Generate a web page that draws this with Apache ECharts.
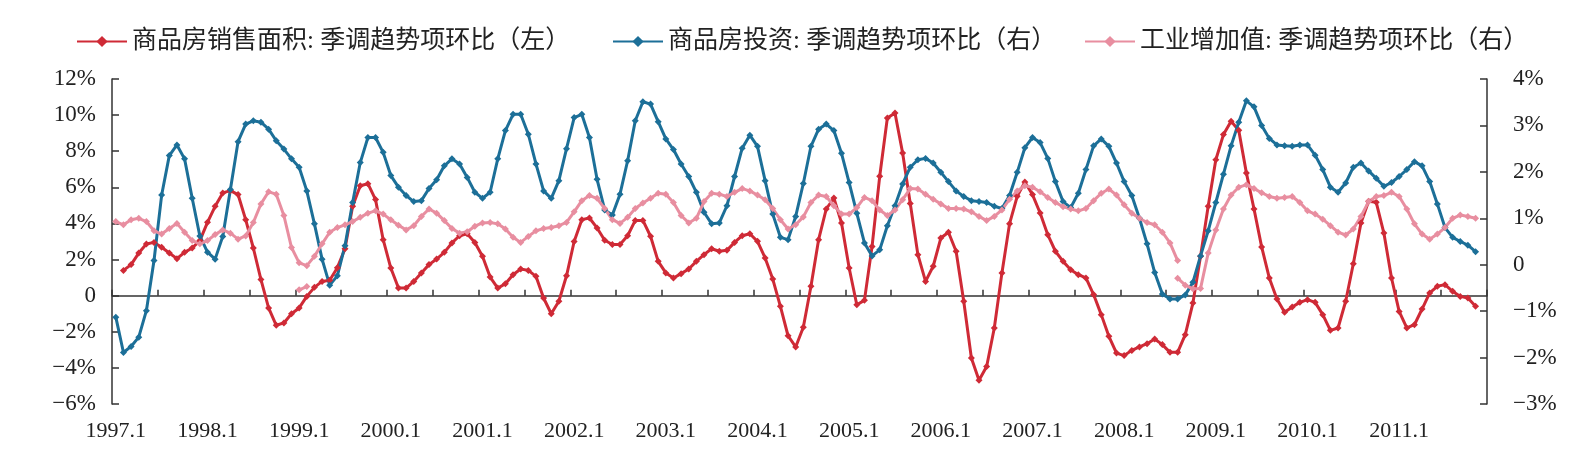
<!DOCTYPE html>
<html>
<head>
<meta charset="utf-8">
<script src="https://cdn.jsdelivr.net/npm/echarts@6/dist/echarts.min.js"></script>
<style>
  html, body { margin: 0; padding: 0; background: #fff; }
  #chart { width: 1586px; height: 461px; }
</style>
</head>
<body>
<div id="chart"></div>
<script>
// monthly categories 1997.1 .. 2011.12
const years = [1997, 1998, 1999, 2000, 2001, 2002, 2003, 2004, 2005, 2006, 2007, 2008, 2009, 2010, 2011]
const months = [1, 2, 3, 4, 5, 6, 7, 8, 9, 10, 11, 12]
const categories = years.flatMap((y) => months.map((m) => y + '.' + m))

const leftTicks = { min: -6, max: 12, interval: 2 }
const rightTicks = { min: -3, max: 4, interval: 1 }

const nameSales = '商品房销售面积: 季调趋势项环比（左）'
const nameInvest = '商品房投资: 季调趋势项环比（右）'
const nameIndustry = '工业增加值: 季调趋势项环比（右）'

// 商品房销售面积 (左轴, %), starts 1997.2
const salesArea = [
  null, 1.40, 1.72, 2.36, 2.86, 2.95, 2.68, 2.36, 2.05, 2.40, 2.64, 3.05,
  4.06, 4.95, 5.69, 5.82, 5.60, 4.21, 2.64, 0.89, -0.68, -1.64, -1.51, -1.00,
  -0.68, -0.04, 0.46, 0.79, 0.85, 1.55, 2.60, 4.95, 6.09, 6.20, 5.32, 3.10,
  1.53, 0.42, 0.42, 0.79, 1.26, 1.72, 2.03, 2.40, 2.92, 3.32, 3.43, 2.95,
  2.18, 1.03, 0.42, 0.66, 1.16, 1.48, 1.40, 1.07, -0.13, -1.00, -0.31, 1.10,
  3.00, 4.21, 4.30, 3.75, 3.07, 2.83, 2.83, 3.32, 4.17, 4.17, 3.29, 1.90,
  1.26, 0.98, 1.22, 1.48, 1.90, 2.27, 2.60, 2.46, 2.51, 2.95, 3.32, 3.43,
  3.01, 2.09, 0.92, -0.59, -2.22, -2.84, -1.75, 0.52, 3.10, 4.80, 5.41, 4.03,
  1.53, -0.50, -0.26, 2.73, 6.61, 9.84, 10.12, 7.90, 5.10, 2.27, 0.79, 1.63,
  3.19, 3.51, 2.46, -0.31, -3.45, -4.69, -3.92, -1.79, 1.26, 3.99, 5.50, 6.30,
  5.60, 4.58, 3.38, 2.46, 1.90, 1.44, 1.16, 0.98, 0.06, -1.05, -2.25, -3.18,
  -3.32, -3.03, -2.84, -2.66, -2.40, -2.71, -3.14, -3.14, -2.16, -0.41, 2.18, 4.95,
  7.53, 8.92, 9.66, 9.16, 6.80, 4.80, 2.70, 0.98, -0.18, -0.92, -0.63, -0.37,
  -0.22, -0.37, -1.05, -1.92, -1.79, -0.31, 1.77, 4.03, 5.23, 5.17, 3.47, 0.98,
  -0.87, -1.79, -1.61, -0.74, 0.15, 0.52, 0.61, 0.24, -0.04, -0.13, -0.59
]

// 商品房投资 (右轴, %)
const investment = [
  -1.13, -1.89, -1.76, -1.56, -0.99, 0.09, 1.50, 2.35, 2.58, 2.28, 1.43, 0.62,
  0.27, 0.12, 0.61, 1.62, 2.65, 3.03, 3.10, 3.07, 2.92, 2.67, 2.49, 2.28,
  2.10, 1.59, 0.88, 0.12, -0.44, -0.24, 0.41, 1.34, 2.20, 2.74, 2.74, 2.42,
  1.92, 1.67, 1.49, 1.36, 1.38, 1.64, 1.83, 2.13, 2.28, 2.17, 1.88, 1.56,
  1.43, 1.56, 2.28, 2.89, 3.24, 3.24, 2.81, 2.17, 1.59, 1.43, 1.81, 2.50,
  3.17, 3.24, 2.74, 1.84, 1.18, 1.07, 1.52, 2.24, 3.10, 3.51, 3.46, 3.08,
  2.71, 2.48, 2.17, 1.90, 1.56, 1.13, 0.88, 0.90, 1.27, 1.90, 2.51, 2.79,
  2.55, 1.81, 1.09, 0.59, 0.54, 1.04, 1.75, 2.55, 2.92, 3.03, 2.89, 2.40,
  1.77, 1.11, 0.47, 0.19, 0.32, 0.84, 1.27, 1.74, 2.10, 2.26, 2.29, 2.19,
  1.99, 1.79, 1.59, 1.47, 1.38, 1.36, 1.34, 1.26, 1.21, 1.49, 1.99, 2.52,
  2.74, 2.63, 2.29, 1.79, 1.36, 1.23, 1.54, 2.05, 2.56, 2.71, 2.55, 2.19,
  1.79, 1.49, 1.00, 0.45, -0.17, -0.63, -0.74, -0.74, -0.65, -0.38, 0.19, 0.73,
  1.34, 1.95, 2.56, 3.07, 3.53, 3.40, 3.00, 2.72, 2.58, 2.56, 2.55, 2.58,
  2.58, 2.36, 2.05, 1.67, 1.56, 1.76, 2.10, 2.19, 2.02, 1.86, 1.69, 1.77,
  1.90, 2.05, 2.22, 2.13, 1.79, 1.31, 0.80, 0.59, 0.50, 0.42, 0.28
]

// 工业增加值 (右轴, %), 1997.1 .. 2008.8
const industryBefore = [
  0.93, 0.86, 0.97, 1.00, 0.93, 0.73, 0.66, 0.78, 0.89, 0.70, 0.52, 0.45,
  0.52, 0.65, 0.75, 0.68, 0.55, 0.62, 0.91, 1.31, 1.57, 1.52, 1.06, 0.37,
  0.04, -0.02, 0.18, 0.45, 0.70, 0.80, 0.86, 0.93, 1.02, 1.11, 1.16, 1.09,
  0.97, 0.85, 0.75, 0.84, 1.04, 1.20, 1.11, 0.95, 0.78, 0.68, 0.71, 0.83,
  0.90, 0.91, 0.88, 0.77, 0.59, 0.48, 0.61, 0.73, 0.78, 0.80, 0.84, 0.91,
  1.14, 1.38, 1.49, 1.43, 1.21, 0.97, 0.89, 1.02, 1.21, 1.33, 1.43, 1.54,
  1.52, 1.34, 1.06, 0.90, 1.00, 1.36, 1.54, 1.52, 1.47, 1.56, 1.64, 1.59,
  1.50, 1.40, 1.21, 0.97, 0.77, 0.86, 1.03, 1.34, 1.50, 1.47, 1.27, 1.09,
  1.09, 1.23, 1.45, 1.38, 1.18, 1.06, 1.18, 1.40, 1.64, 1.63, 1.52, 1.41,
  1.31, 1.21, 1.21, 1.20, 1.14, 1.04, 0.95, 1.04, 1.18, 1.41, 1.59, 1.70,
  1.67, 1.57, 1.45, 1.34, 1.25, 1.20, 1.16, 1.21, 1.38, 1.54, 1.63, 1.50,
  1.29, 1.11, 1.00, 0.91, 0.86, 0.70, 0.47, 0.09
]
// 工业增加值, second piece 2008.8 .. 2011.11
const industryAfter = [
  -0.29, -0.44, -0.52, -0.51, 0.25, 0.75, 1.20, 1.50, 1.67, 1.72, 1.64, 1.55,
  1.47, 1.43, 1.45, 1.47, 1.34, 1.16, 1.09, 0.98, 0.84, 0.70, 0.64, 0.77,
  1.04, 1.36, 1.47, 1.49, 1.56, 1.47, 1.20, 0.88, 0.66, 0.55, 0.66, 0.80,
  1.00, 1.07, 1.04, 1.00
]
// short detached piece of 工业增加值 around 1999.1
const industryStub = [-0.54, -0.47]
const industryStubStart = 24
const industryAfterStart = 139

const pinkA = categories.map((c, i) => (i < industryBefore.length ? industryBefore[i] : null))
const pinkB = categories.map((c, i) => {
  if (i >= industryStubStart && i < industryStubStart + industryStub.length) return industryStub[i - industryStubStart]
  const k = i - industryAfterStart
  return k >= 0 && k < industryAfter.length ? industryAfter[k] : null
})

const colorSales = '#cf2a36'
const colorInvest = '#1c6f98'
const colorIndustry = '#e88ea0'

const labelFont = '"Liberation Serif", "Times New Roman", serif'
const legendFont = '"Liberation Serif", "Noto Sans CJK SC", serif'

function pct(v) {
  if (v === 0) return '0'
  return (v < 0 ? '\u2212' + (-v) : String(v)) + '%'
}

function lineSeries(name, data, color, yAxisIndex) {
  return {
    name,
    type: 'line',
    data,
    xAxisIndex: 0,
    yAxisIndex,
    symbol: 'diamond',
    symbolSize: 7,
    showSymbol: true,
    showAllSymbol: true,
    connectNulls: false,
    lineStyle: { width: 3, color },
    itemStyle: { color },
    emphasis: { disabled: true }
  }
}

function legendAt(name, left) {
  return {
    data: [name],
    left,
    top: 24,
    itemWidth: 50,
    itemHeight: 14,
    itemGap: 0,
    textStyle: { fontFamily: legendFont, fontSize: 25, color: '#222' }
  }
}

const axisLineStyle = { color: '#333', width: 1.5 }

const chart = echarts.init(document.getElementById('chart'))
chart.setOption({
  animation: false,
  backgroundColor: '#fff',
  legend: [
    legendAt(nameSales, 71),
    legendAt(nameInvest, 607),
    legendAt(nameIndustry, 1079)
  ],
  grid: { left: 112, right: 99, top: 79, bottom: 57, containLabel: false },
  xAxis: [
    {
      type: 'category',
      data: categories,
      boundaryGap: true,
      position: 'bottom',
      axisLine: { show: false, onZero: false },
      axisTick: { show: false },
      axisLabel: {
        interval: 11,
        margin: 16,
        fontFamily: labelFont,
        fontSize: 22,
        color: '#222'
      },
      splitLine: { show: false }
    },
    {
      type: 'category',
      data: categories,
      boundaryGap: true,
      position: 'bottom',
      axisLine: { show: true, onZero: true, onZeroAxisIndex: 0, lineStyle: axisLineStyle },
      axisTick: { show: true, inside: true, interval: 5, length: 6, lineStyle: axisLineStyle },
      axisLabel: { show: false },
      splitLine: { show: false }
    }
  ],
  yAxis: [
    {
      type: 'value',
      position: 'left',
      min: leftTicks.min,
      max: leftTicks.max,
      interval: leftTicks.interval,
      axisLine: { show: true, onZero: false, lineStyle: axisLineStyle },
      axisTick: { show: true, inside: true, length: 7, lineStyle: axisLineStyle },
      axisLabel: {
        formatter: pct,
        margin: 16,
        fontFamily: labelFont,
        fontSize: 23,
        color: '#222'
      },
      splitLine: { show: false }
    },
    {
      type: 'value',
      position: 'right',
      min: rightTicks.min,
      max: rightTicks.max,
      interval: rightTicks.interval,
      axisLine: { show: true, onZero: false, lineStyle: axisLineStyle },
      axisTick: { show: true, inside: true, length: 7, lineStyle: axisLineStyle },
      axisLabel: {
        formatter: pct,
        margin: 26,
        fontFamily: labelFont,
        fontSize: 23,
        color: '#222'
      },
      splitLine: { show: false }
    }
  ],
  series: [
    lineSeries(nameSales, salesArea, colorSales, 0),
    lineSeries(nameInvest, investment, colorInvest, 1),
    lineSeries(nameIndustry, pinkA, colorIndustry, 1),
    lineSeries(nameIndustry, pinkB, colorIndustry, 1)
  ]
})
</script>
</body>
</html>
